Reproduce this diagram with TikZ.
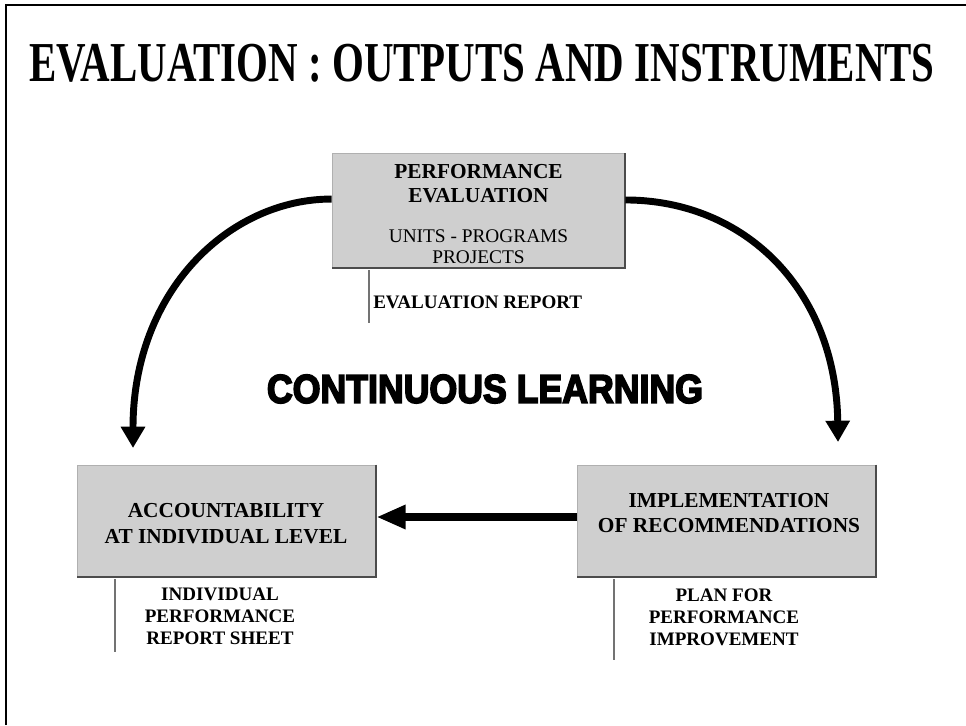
\documentclass[tikz,border=0pt]{standalone}
\usepackage{fontspec}
\setmainfont{Liberation Serif}
\newfontfamily\heavyfont[BoldFeatures={FakeBold=4.5}]{Liberation Sans}
\usetikzlibrary{arrows.meta}
\definecolor{boxgray}{gray}{0.81}
\tikzset{
  panel/.style={fill=boxgray, draw=boxgray!85!black, line width=0.6pt, inner sep=0pt},
  shadowline/.style={draw=black!70, line width=1.4pt},
  boldline/.style={font=\fontsize{16}{18}\selectfont\bfseries, anchor=base, inner sep=0pt},
  plainline/.style={font=\fontsize{14.5}{17}\selectfont, anchor=base, inner sep=0pt},
  captext/.style={font=\fontsize{14.3}{16.2}\selectfont\bfseries, inner sep=0pt},
  tick/.style={draw=black!55, line width=0.8pt},
  curvearrow/.style={line width=5.2pt, -{Triangle[length=16pt,width=17.5pt]}},
  flatarrow/.style={line width=6.5pt, -{Triangle[length=22pt,width=17pt]}},
  frameline/.style={line width=2.2pt}
}
\begin{document}
\begin{tikzpicture}[x=0.75pt,y=-0.75pt]
\useasboundingbox (0,0) rectangle (966,725);
% frame
\coordinate (f1) at (6,5);
\coordinate (f2) at (966,5);
\coordinate (f3) at (6,725);
\draw[frameline] (f3) -- (f1) -- (f2);
% title
\node[inner sep=0pt] (title) at (482,63) {\resizebox{679pt}{28pt}{\bfseries EVALUATION : OUTPUTS AND INSTRUMENTS}};
% boxes
\node[panel, minimum width=219.75pt, minimum height=85.5pt] (top) at (478.5,210.5) {};
\node[panel, minimum width=224.25pt, minimum height=84pt] (left) at (226.5,521) {};
\node[panel, minimum width=224.25pt, minimum height=84pt] (right) at (726.5,521) {};
\draw[shadowline] (top.north east) -- (top.south east) -- (top.south west);
\draw[shadowline] (left.north east) -- (left.south east) -- (left.south west);
\draw[shadowline] (right.north east) -- (right.south east) -- (right.south west);
% top box text
\node[boldline] (t1) at (478.5,178) {PERFORMANCE};
\node[boldline] (t2) at (478.5,202) {EVALUATION};
\node[plainline] (t3) at (478.5,242) {UNITS - PROGRAMS};
\node[plainline] (t4) at (478.5,263) {PROJECTS};
% left box text
\node[boldline] (l1) at (226,517) {ACCOUNTABILITY};
\node[boldline] (l2) at (226,543) {AT INDIVIDUAL LEVEL};
% right box text
\node[boldline] (r1) at (729,507) {IMPLEMENTATION};
\node[boldline] (r2) at (729,532) {OF RECOMMENDATIONS};
% captions
\coordinate (ta) at (369,270); \coordinate (tb) at (369,323);
\draw[tick] (ta) -- (tb);
\node[captext, anchor=base west] (cap1) at (373,308) {EVALUATION REPORT};
\coordinate (la) at (115,579); \coordinate (lb) at (115,652);
\draw[tick] (la) -- (lb);
\node[captext, anchor=north, align=center] (cap2) at (220,588) {INDIVIDUAL\\PERFORMANCE\\REPORT SHEET};
\coordinate (ra) at (614,579); \coordinate (rb) at (614,660);
\draw[tick] (ra) -- (rb);
\node[captext, anchor=north, align=center] (cap3) at (724,589) {PLAN FOR\\PERFORMANCE\\IMPROVEMENT};
% centre text
\node[inner sep=0pt] (cl) at (485,389) {\resizebox{327pt}{21pt}{\heavyfont\bfseries CONTINUOUS LEARNING}};
% arrows
\coordinate (lt) at (133,448);
\coordinate (rt) at (838,442);
\draw[curvearrow] ([yshift=8.6pt]top.west) .. controls (230,199) and (133,290) .. (lt);
\draw[curvearrow] ([yshift=7.9pt]top.east) .. controls (745,200) and (836,290) .. (rt);
\draw[flatarrow] ([yshift=3pt]right.west) -- ([yshift=3pt]left.east);
\end{tikzpicture}
\end{document}
